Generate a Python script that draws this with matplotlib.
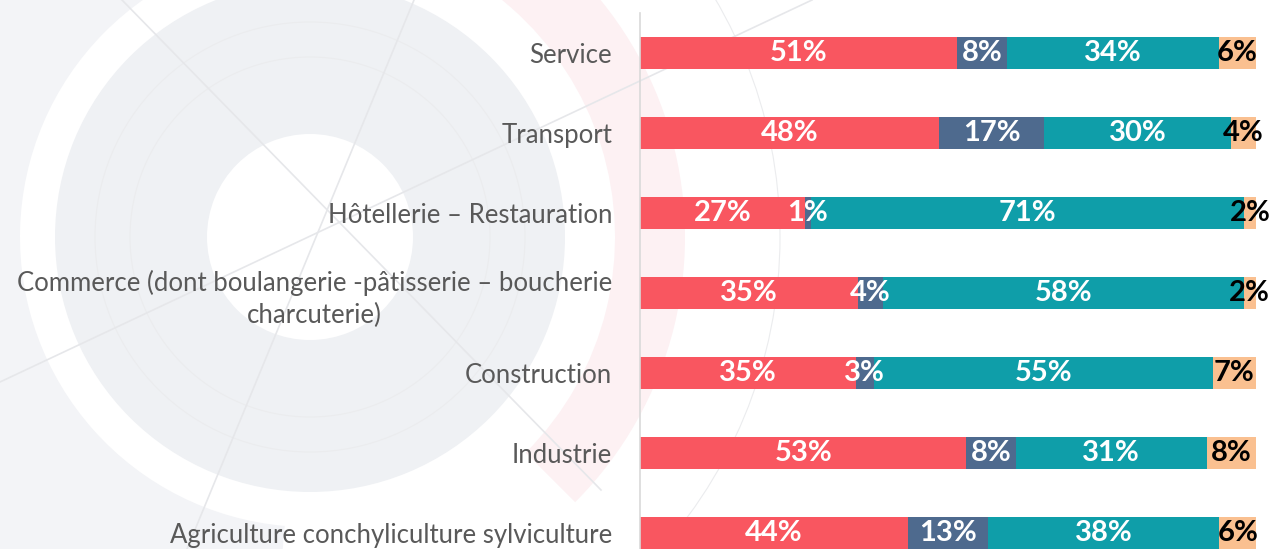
import numpy as np
import matplotlib.pyplot as plt
from matplotlib.patches import Wedge, Circle

# données (pourcentages)
categories = [
    "Service",
    "Transport",
    "Hôtellerie – Restauration",
    "Commerce (dont boulangerie -pâtisserie – boucherie\ncharcuterie)",
    "Construction",
    "Industrie",
    "Agriculture conchyliculture sylviculture",
]
rouge = [51, 48, 27, 35, 35, 53, 44]
bleu = [8, 17, 1, 4, 3, 8, 13]
turquoise = [34, 30, 71, 58, 55, 31, 38]
peche = [6, 4, 2, 2, 7, 8, 6]

series = [rouge, bleu, turquoise, peche]
colors = ["#F95660", "#4E6A8E", "#0F9EA9", "#FAC090"]
text_colors = ["white", "white", "white", "black"]

plt.rcParams["font.family"] = ["Lato", "DejaVu Sans"]

fig = plt.figure(figsize=(12.74, 5.49), dpi=100)

# filigrane en fond
bg = fig.add_axes([0, 0, 1, 1], zorder=-1)
bg.set_xlim(0, 1274)
bg.set_ylim(549, 0)
bg.axis("off")
c = (310, 237)
bg.add_patch(Wedge(c, 440, 95, 268, width=150, color="#F3F4F7", lw=0))
bg.add_patch(Wedge(c, 375, -80, 45, width=70, color="#FDF1F3", lw=0))
bg.add_patch(Wedge(c, 255, 0, 360, width=152, color="#EFF1F4", lw=0))
for r in [180, 215, 470]:
    bg.add_patch(Circle(c, r, fill=False, ec="#EBECEE", lw=0.8))
bg.plot([0, 812], [382, 0], color="#E6E7EA", lw=1.2)
bg.plot([122, 601], [0, 490], color="#E6E7EA", lw=1.2)
bg.plot([414, 187], [0, 549], color="#E6E7EA", lw=1.2)

# graphique principal
top = 1 - 13 / 549
bottom = 1 - 573 / 549
ax = fig.add_axes([640 / 1274, bottom, 616 / 1274, top - bottom])
ax.set_facecolor("none")

y = np.arange(len(categories))
data = np.array(series, dtype=float)
totals = data.sum(axis=0)
left = np.zeros(len(categories))
for vals, col, tcol in zip(series, colors, text_colors):
    w = np.array(vals) / totals * 100
    ax.barh(y, w, left=left, height=0.4, color=col)
    for yi, l, wi, v in zip(y, left, w, vals):
        ax.text(l + wi / 2, yi, f"{v}%", ha="center", va="center",
                color=tcol, fontsize=21, fontweight="bold")
    left = left + w

ax.set_xlim(0, 100)
ax.set_ylim(len(categories) - 0.5, -0.5)
ax.set_xticks([])
ax.set_yticks(y)
ax.set_yticklabels(categories, fontsize=18.5, color="#595959",
                   multialignment="center", linespacing=1.35)
ax.tick_params(axis="y", length=0, pad=20)
for s in ["top", "right", "bottom"]:
    ax.spines[s].set_visible(False)
ax.spines["left"].set_color("#D9D9D9")
ax.spines["left"].set_linewidth(1.2)

plt.savefig("out.png", dpi=100)
